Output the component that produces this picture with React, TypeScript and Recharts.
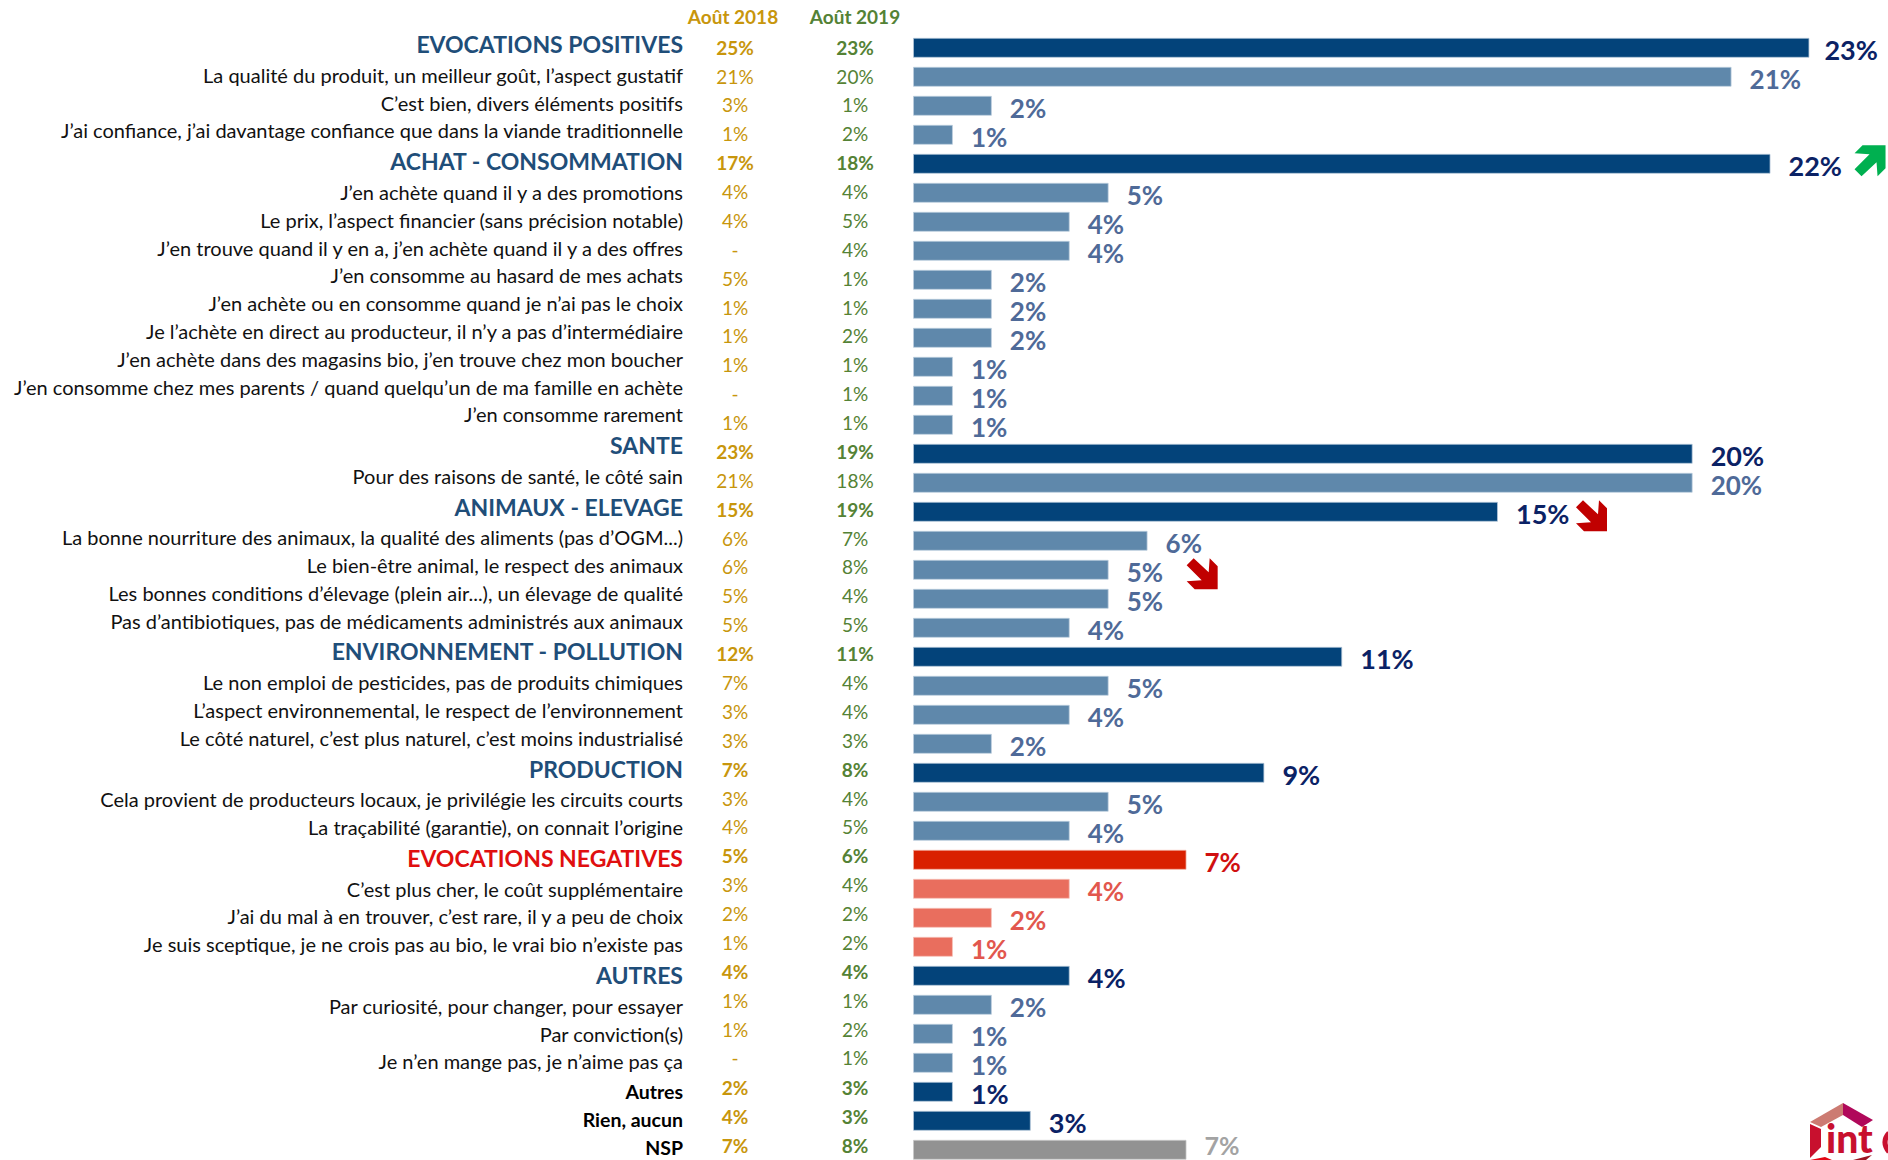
import { Bar, BarChart, Cell, LabelList, XAxis, YAxis } from "recharts";

const FONT = "Lato, sans-serif";

const labels = [
  "EVOCATIONS POSITIVES",
  "La qualité du produit, un meilleur goût, l’aspect gustatif",
  "C’est bien, divers éléments positifs",
  "J’ai confiance, j’ai davantage confiance que dans la viande traditionnelle",
  "ACHAT - CONSOMMATION",
  "J’en achète quand il y a des promotions",
  "Le prix, l’aspect financier (sans précision notable)",
  "J’en trouve quand il y en a, j’en achète quand il y a des offres",
  "J’en consomme au hasard de mes achats",
  "J’en achète ou en consomme quand je n’ai pas le choix",
  "Je l’achète en direct au producteur, il n’y a pas d’intermédiaire",
  "J’en achète dans des magasins bio, j’en trouve chez mon boucher",
  "J’en consomme chez mes parents / quand quelqu’un de ma famille en achète",
  "J’en consomme rarement",
  "SANTE",
  "Pour des raisons de santé, le côté sain",
  "ANIMAUX - ELEVAGE",
  "La bonne nourriture des animaux, la qualité des aliments (pas d’OGM...)",
  "Le bien-être animal, le respect des animaux",
  "Les bonnes conditions d’élevage (plein air...), un élevage de qualité",
  "Pas d’antibiotiques, pas de médicaments administrés aux animaux",
  "ENVIRONNEMENT - POLLUTION",
  "Le non emploi de pesticides, pas de produits chimiques",
  "L’aspect environnemental, le respect de l’environnement",
  "Le côté naturel, c’est plus naturel, c’est moins industrialisé",
  "PRODUCTION",
  "Cela provient de producteurs locaux, je privilégie les circuits courts",
  "La traçabilité (garantie), on connait l’origine",
  "EVOCATIONS NEGATIVES",
  "C’est plus cher, le coût supplémentaire",
  "J’ai du mal à en trouver, c’est rare, il y a peu de choix",
  "Je suis sceptique, je ne crois pas au bio, le vrai bio n’existe pas",
  "AUTRES",
  "Par curiosité, pour changer, pour essayer",
  "Par conviction(s)",
  "Je n’en mange pas, je n’aime pas ça",
  "Autres",
  "Rien, aucun",
  "NSP",
];

const kinds = [
  "head", "sub", "sub", "sub",
  "head", "sub", "sub", "sub", "sub", "sub", "sub", "sub", "sub", "sub",
  "head", "sub",
  "head", "sub", "sub", "sub", "sub",
  "head", "sub", "sub", "sub",
  "head", "sub", "sub",
  "neg", "negsub", "negsub", "negsub",
  "head", "sub", "sub", "sub",
  "plain", "plain", "nsp",
];

const aout2018 = ["25%", "21%", "3%", "1%", "17%", "4%", "4%", "-", "5%", "1%", "1%", "1%", "-", "1%", "23%", "21%", "15%", "6%", "6%", "5%", "5%", "12%", "7%", "3%", "3%", "7%", "3%", "4%", "5%", "3%", "2%", "1%", "4%", "1%", "1%", "-", "2%", "4%", "7%"];
const aout2019 = ["23%", "20%", "1%", "2%", "18%", "4%", "5%", "4%", "1%", "1%", "2%", "1%", "1%", "1%", "19%", "18%", "19%", "7%", "8%", "4%", "5%", "11%", "4%", "4%", "3%", "8%", "4%", "5%", "6%", "4%", "2%", "2%", "4%", "1%", "2%", "1%", "3%", "3%", "8%"];
const current = [23, 21, 2, 1, 22, 5, 4, 4, 2, 2, 2, 1, 1, 1, 20, 20, 15, 6, 5, 5, 4, 11, 5, 4, 2, 9, 5, 4, 7, 4, 2, 1, 4, 2, 1, 1, 1, 3, 7];

const trends: Record<number, "up" | "down"> = { 4: "up", 16: "down", 18: "down" };

const tableData = labels.map((label, i) => ({ label, value: current[i] }));

const styleByKind: Record<string, { fill: string; stroke: string; valueColor: string; valueSize: number; valueWeight: number; labelColor: string; labelSize: number; labelWeight: number }> = {
  head: { fill: "#03437A", stroke: "#B4C7DA", valueColor: "#0B2265", valueSize: 27, valueWeight: 700, labelColor: "#1F4E79", labelSize: 23, labelWeight: 700 },
  sub: { fill: "#5F88AB", stroke: "#BCCDDD", valueColor: "#4F6A98", valueSize: 26, valueWeight: 700, labelColor: "#111111", labelSize: 20, labelWeight: 400 },
  neg: { fill: "#D92000", stroke: "#F0B0A0", valueColor: "#D01010", valueSize: 26, valueWeight: 700, labelColor: "#E00F0F", labelSize: 23, labelWeight: 700 },
  negsub: { fill: "#E96E5E", stroke: "#F5C0B8", valueColor: "#E2574E", valueSize: 26, valueWeight: 700, labelColor: "#111111", labelSize: 20, labelWeight: 400 },
  plain: { fill: "#03437A", stroke: "#B4C7DA", valueColor: "#0B2265", valueSize: 27, valueWeight: 700, labelColor: "#000000", labelSize: 19.5, labelWeight: 700 },
  nsp: { fill: "#929292", stroke: "#C8C8C8", valueColor: "#A3A3A3", valueSize: 25, valueWeight: 700, labelColor: "#000000", labelSize: 19.5, labelWeight: 700 },
};

// the label column of the source table has taller rows for the group headers
const labelRowY: number[] = [];
{
  let y = 45.5;
  kinds.forEach((k, i) => {
    if (i > 0) {
      const big = (x: string) => x === "head" || x === "neg";
      y += 27.8 + (big(k) ? 2.95 : 0) + (big(kinds[i - 1]) ? 2.95 : 0);
    }
    labelRowY.push(y);
  });
}

function RowTick({ payload }: any) {
  const i = labels.indexOf(payload.value);
  const kind = kinds[i];
  const s = styleByKind[kind];
  const isBold = s.labelWeight === 700;
  const isFooter = kind === "plain" || kind === "nsp";
  const valueY = 48 + 28.88 * i + (isFooter ? 1 : 0);
  const valueSize = 19;
  return (
    <g fontFamily={FONT}>
      <text x={683} y={labelRowY[i] + (isFooter ? 2 : 0)} dy="0.33em" textAnchor="end" fill={s.labelColor} fontSize={s.labelSize} fontWeight={s.labelWeight}>
        {payload.value}
      </text>
      <text x={735} y={valueY} dy="0.35em" textAnchor="middle" fill="#C8960C" fontSize={valueSize} fontWeight={isBold ? 700 : 400}>
        {aout2018[i]}
      </text>
      <text x={855} y={valueY} dy="0.35em" textAnchor="middle" fill="#548235" fontSize={valueSize} fontWeight={isBold ? 700 : 400}>
        {aout2019[i]}
      </text>
    </g>
  );
}

function Arrow({ x, y, dir }: { x: number; y: number; dir: "up" | "down" }) {
  // 31px block arrow, drawn pointing down-right and flipped for the up version
  const points = "0,7 7,0 22,14 23,0 31,8 31,31 8,31 0,23 15,22";
  const flip = dir === "up" ? `translate(${x - 15.5} ${y + 15.5}) scale(1 -1)` : `translate(${x - 15.5} ${y - 15.5})`;
  return <polygon points={points} transform={flip} fill={dir === "up" ? "#00B050" : "#C00000"} />;
}

function BarValue({ x, y, width, height, value, index }: any) {
  const s = styleByKind[kinds[index]];
  const endX = x + width;
  const midY = y + height / 2;
  const trend = trends[index];
  const shiftY = kinds[index] === "nsp" ? -3.75 : 3;
  // the top label sits closer to its bar in the source
  const gap = index === 0 ? 15.5 : 18.5;
  return (
    <g fontFamily={FONT}>
      <text x={endX + gap} y={midY + shiftY} dy="0.35em" fill={s.valueColor} fontSize={s.valueSize} fontWeight={s.valueWeight}>
        {`${value}%`}
      </text>
      {trend ? <Arrow x={endX + (trend === "up" ? 100 : 94)} y={midY + (trend === "up" ? -3 : 4)} dir={trend} /> : null}
    </g>
  );
}

function Overlay() {
  return (
    <svg width={1888} height={1160} style={{ position: "absolute", left: 0, top: 0, pointerEvents: "none" }}>
      <g fontFamily={FONT} fontSize={19} fontWeight={700} textAnchor="middle">
        <text x={733} y={24} fill="#C8960C">Août 2018</text>
        <text x={855} y={24} fill="#548235">Août 2019</text>
      </g>
      {/* logo */}
      <polygon points="1843,1103 1810,1122 1821,1127 1843,1115" fill="#CC7B72" />
      <polygon points="1843,1103 1873,1120 1862,1127 1843,1115" fill="#B0085A" />
      <polygon points="1810,1124 1821,1129 1821,1147 1810,1158" fill="#C8102E" />
      <polygon points="1810,1160 1825,1157 1832,1160" fill="#E30613" />
      <polygon points="1853,1160 1872,1155 1866,1160" fill="#9B1520" />
      <text x={1826} y={1153} fontFamily={FONT} fontSize={39} fontWeight={900} fill="#C8102E">int</text>
      <path d="M1889,1133 Q1881,1142 1889,1152" fill="none" stroke="#C8102E" strokeWidth={5} />
    </svg>
  );
}

export default function App() {
  return (
    <div style={{ position: "absolute", left: 0, top: 0, width: 1888, height: 1160, overflow: "hidden", background: "#fff" }}>
      <BarChart
        width={1888}
        height={1165}
        layout="vertical"
        data={tableData}
        margin={{ top: 33.3, right: 0, bottom: 0.7, left: 0 }}
        barCategoryGap={0}
      >
        <XAxis type="number" hide domain={[0, 25.03]} />
        <YAxis
          type="category"
          dataKey="label"
          width={913.5}
          interval={0}
          axisLine={false}
          tickLine={false}
          tick={RowTick}
        />
        <Bar dataKey="value" barSize={19} isAnimationActive={false}>
          {tableData.map((row, i) => (
            <Cell key={row.label} fill={styleByKind[kinds[i]].fill} stroke={styleByKind[kinds[i]].stroke} strokeWidth={0.75} />
          ))}
          <LabelList dataKey="value" content={BarValue} />
        </Bar>
      </BarChart>
      <Overlay />
    </div>
  );
}
